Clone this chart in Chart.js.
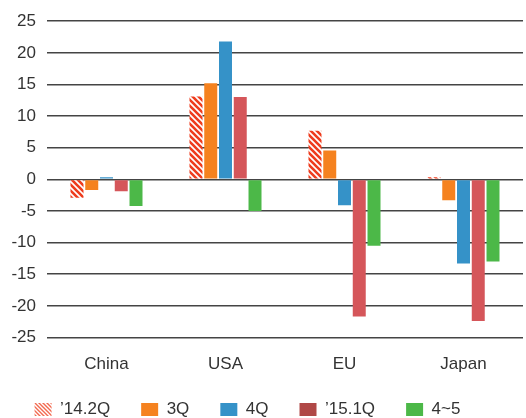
<!DOCTYPE html>
<html>
<head>
<meta charset="utf-8">
<script src="https://cdn.jsdelivr.net/npm/chart.js@4/dist/chart.umd.min.js"></script>
<style>
html,body{margin:0;padding:0;background:#fff;}
#wrap{width:526px;height:418px;position:relative;}
</style>
</head>
<body>
<div id="wrap"><canvas id="c" width="526" height="418"></canvas></div>
<script>
const categories = ["China", "USA", "EU", "Japan"];
const seriesNames = ["\u201914.2Q", "3Q", "4Q", "\u201915.1Q", "4~5"];
const s142Q = [-2.9, 13.1, 7.7, 0.35];
const s3Q = [-1.7, 15.2, 4.55, -3.3];
const s4Q = [0.35, 21.8, -4.1, -13.3];
const s151Q = [-1.9, 13.0, -21.7, -22.4];
const s45 = [-4.2, -5.0, -10.5, -13.0];
const yTicks = [25, 20, 15, 10, 5, 0, -5, -10, -15, -20, -25];

function hatch(size, lw, color) {
  const c = document.createElement('canvas');
  c.width = size; c.height = size;
  const x = c.getContext('2d');
  x.fillStyle = '#fff'; x.fillRect(0, 0, size, size);
  x.strokeStyle = color; x.lineWidth = lw;
  x.beginPath();
  for (let k = -1; k <= 1; k++) {
    x.moveTo(k * size - 1, -1); x.lineTo(k * size + size + 1, size + 1);
  }
  x.stroke();
  return x.createPattern(c, 'repeat');
}

const ctx = document.getElementById('c').getContext('2d');
const barHatch = hatch(6, 2.6, '#ee3c1e');
const legHatch = hatch(4, 1.4, '#f26a50');

const colors = [barHatch, '#f5821f', '#3592c8', '#d5565a', '#4cb848'];
const legendColors = [legHatch, '#f5821f', '#3592c8', '#b04846', '#4cb848'];
const values = [s142Q, s3Q, s4Q, s151Q, s45];
const FONT = '"Liberation Sans", Arial, sans-serif';

const legendTweak = {
  id: 'legendTweak',
  beforeLayout(chart) {
    const lg = chart.legend;
    if (lg && !lg._patched) {
      const orig = lg.fit.bind(lg);
      lg.fit = function () { orig(); this.height = 42; };
      lg._patched = true;
    }
  },
  afterLayout(chart) {
    const lg = chart.legend;
    const dx = -14, dy = -6;
    lg.left += dx; lg.right += dx; lg.top += dy;
  }
};

const chart = new Chart(ctx, {
  type: 'bar',
  data: {
    labels: categories,
    datasets: values.map((v, i) => ({
      label: seriesNames[i],
      data: v,
      backgroundColor: colors[i],
      borderWidth: 0,
      categoryPercentage: 0.62,
      barPercentage: 0.88
    }))
  },
  plugins: [legendTweak],
  options: {
    responsive: false,
    animation: false,
    devicePixelRatio: 1,
    layout: { padding: { top: 9, right: 3, left: 0, bottom: 0 } },
    plugins: {
      tooltip: { enabled: false },
      legend: {
        position: 'bottom',
        labels: {
          boxWidth: 17,
          boxHeight: 13,
          padding: 31,
          color: '#333',
          font: { family: FONT, size: 17 },
          generateLabels: (ch) => ch.data.datasets.map((d, i) => ({
            text: d.label,
            fillStyle: legendColors[i],
            strokeStyle: 'rgba(0,0,0,0)',
            lineWidth: 0,
            hidden: false,
            datasetIndex: i,
            fontColor: '#333'
          }))
        }
      }
    },
    scales: {
      x: {
        afterFit: (ax) => { ax.height = 38.5; },
        grid: { display: false, drawTicks: false },
        border: { display: false },
        ticks: {
          color: '#333',
          padding: 17,
          font: { family: FONT, size: 17 }
        }
      },
      y: {
        min: -25, max: 25,
        afterBuildTicks: (ax) => { ax.ticks = yTicks.map(v => ({ value: v })); },
        afterFit: (ax) => { ax.width = 47; },
        grid: { color: '#444', lineWidth: 1.6, drawTicks: false },
        border: { display: false },
        ticks: {
          color: '#333',
          padding: 11,
          font: { family: FONT, size: 17 }
        }
      }
    }
  }
});
</script>
</body>
</html>
